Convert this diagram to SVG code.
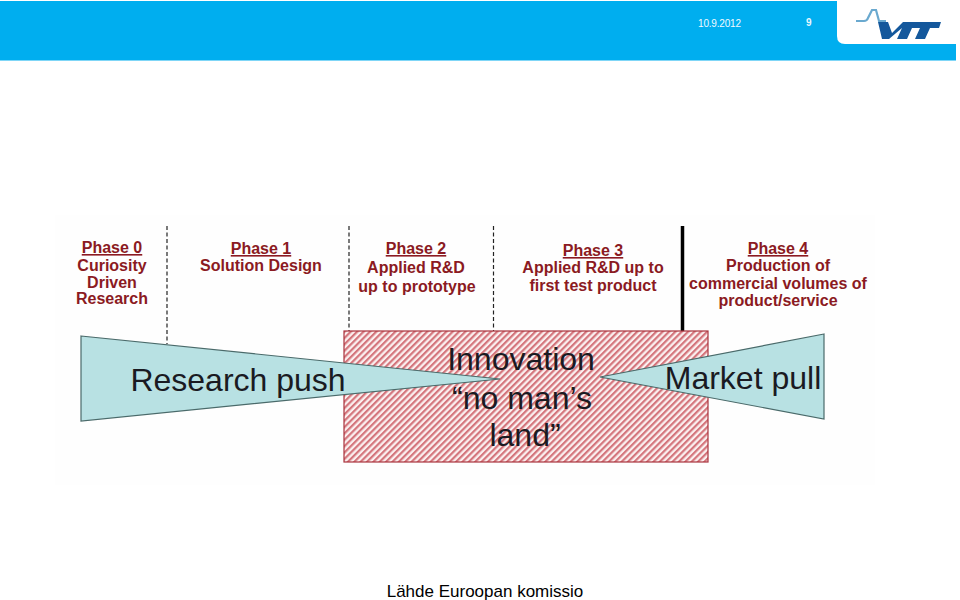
<svg xmlns="http://www.w3.org/2000/svg" width="960" height="600" viewBox="0 0 960 600">
<style>
text{font-family:"Liberation Sans",Arial,sans-serif}
.p{font-size:16px;font-weight:bold;fill:#8b1a22;text-anchor:middle}
.u{text-decoration:underline}
.b{font-size:32px;fill:#1a1a22;text-anchor:middle}
.d{stroke:#222;stroke-width:1.2;stroke-dasharray:4 2.5;fill:none}
.t{fill:#b8e1e3;stroke:#4a6a6a;stroke-width:1.2}
</style>
<defs>
<pattern id="h" width="4.500" height="4.500" patternUnits="userSpaceOnUse" patternTransform="rotate(-45)">
<rect width="4.500" height="4.500" fill="#fbf0f0"/>
<rect width="4.500" height="2.200" fill="#d4757c"/>
</pattern>
</defs>
<rect id="photo" x="55" y="215" width="820" height="270" fill="#fefefe"/>
<g id="header">
<rect x="0" y="1" width="956" height="59.500" fill="#00aeef"/>
<path d="M837 0H960V44H845Q837 44 837 36Z" fill="#fff"/>
<text x="698" y="26.500" font-size="10" fill="#f0faff" textLength="43">10.9.2012</text>
<text x="806" y="26" font-size="10" font-weight="bold" fill="#e8f7ff">9</text>
</g>
<g id="logo">
<path d="M856 21H864Q867 21 868 18L872 10H876L879 21H886" fill="none" stroke="#6aa9cf" stroke-width="2.200"/>
<path d="M878 22H888L892 33L903 22H941L939 28H930L925 39H915L920 28H912L907 39H897L902 28L889 39H882Z" fill="#14589c"/>
</g>
<g id="connectors">
<path class="d" d="M167 226V344"/>
<path class="d" d="M349 226V331"/>
<path class="d" d="M493.500 226V331"/>
<path d="M682.500 226V331" stroke="#000" stroke-width="3.500"/>
</g>
<g id="phase0">
<text class="p u" x="112" y="253">Phase 0</text>
<text class="p" x="112" y="271">Curiosity</text>
<text class="p" x="112" y="288">Driven</text>
<text class="p" x="112" y="304">Research</text>
</g>
<g id="phase1">
<text class="p u" x="261" y="254">Phase 1</text>
<text class="p" x="261" y="271">Solution Design</text>
</g>
<g id="phase2">
<text class="p u" x="416" y="254">Phase 2</text>
<text class="p" x="416" y="273">Applied R&amp;D</text>
<text class="p" x="417" y="292">up to prototype</text>
</g>
<g id="phase3">
<text class="p u" x="593" y="256">Phase 3</text>
<text class="p" x="593" y="273">Applied R&amp;D up to</text>
<text class="p" x="593" y="291">first test product</text>
</g>
<g id="phase4">
<text class="p u" x="778" y="254">Phase 4</text>
<text class="p" x="778" y="271">Production of</text>
<text class="p" x="778" y="289">commercial volumes of</text>
<text class="p" x="778" y="306">product/service</text>
</g>
<g id="innovation">
<rect x="344" y="331" width="364" height="131" fill="url(#h)" stroke="#a8323c" stroke-width="1.200"/>
<text class="b" x="521" y="370">Innovation</text>
<text class="b" x="522" y="409">“no man’s</text>
<text class="b" x="525" y="446">land”</text>
</g>
<g id="research-push">
<path class="t" d="M81 336L500 379L81 421Z"/>
<text class="b" x="238" y="391">Research push</text>
</g>
<g id="market-pull">
<path class="t" d="M824 334L600 377L824 419Z"/>
<text class="b" x="743" y="389">Market pull</text>
</g>
<text x="485" y="597" font-size="17" fill="#000" text-anchor="middle">Lähde Euroopan komissio</text>
</svg>
